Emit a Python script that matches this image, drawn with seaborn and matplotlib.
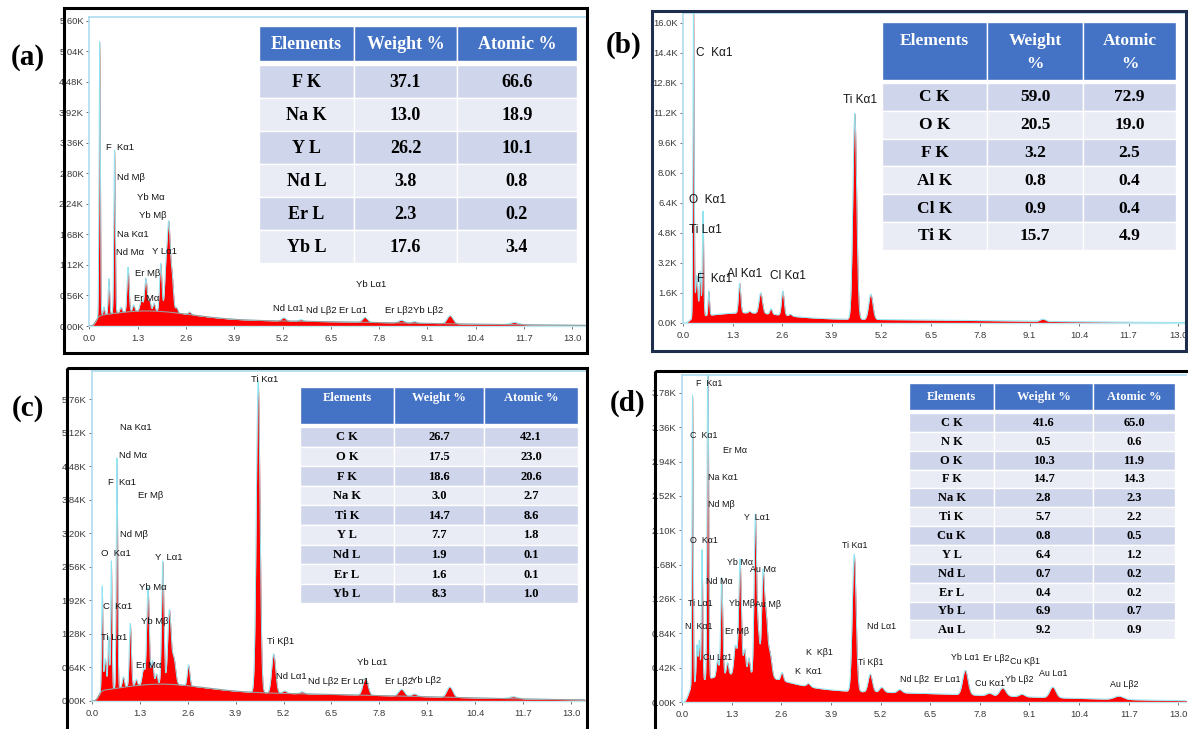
import numpy as np
import matplotlib
matplotlib.use("Agg")
import matplotlib.pyplot as plt
import seaborn as sns
import pandas as pd
from matplotlib.patches import Rectangle

# ---------------------------------------------------------------- data
# Energy axis ticks (keV) shared by all four spectra
x_tick_labels = ["0.0", "1.3", "2.6", "3.9", "5.2", "6.5", "7.8", "9.1", "10.4", "11.7", "13.0"]

# (a) spectrum: characteristic peaks (keV, kcounts, sigma keV) and continuum
a_peak_energy = [0.277, 0.39, 0.525, 0.677, 0.85, 1.04, 1.19, 1.40, 1.52, 1.62, 1.74, 1.92, 2.07, 2.14, 2.22, 2.35, 2.70, 5.23, 5.70, 7.42, 8.40, 8.75, 9.71, 11.44]
a_peak_height = [5.05, 0.15, 0.65, 3.00, 0.10, 0.82, 0.12, 0.20, 0.60, 0.20, 0.15, 0.88, 0.90, 1.38, 0.70, 0.10, 0.05, 0.06, 0.03, 0.09, 0.05, 0.03, 0.15, 0.04]
a_peak_sigma = [0.018, 0.02, 0.02, 0.02, 0.03, 0.028, 0.03, 0.04, 0.035, 0.03, 0.03, 0.032, 0.04, 0.035, 0.04, 0.03, 0.04, 0.06, 0.06, 0.07, 0.08, 0.07, 0.08, 0.12]
a_cont_energy = [1.5, 3.0]
a_cont_height = [0.18, 0.10]
a_cont_sigma = [1.2, 5.0]
a_yticks = ["0.00K", "0.56K", "1.12K", "1.68K", "2.24K", "2.80K", "3.36K", "3.92K", "4.48K", "5.04K", "5.60K"]

# (b) spectrum
b_peak_energy = [0.277, 0.36, 0.452, 0.525, 0.677, 1.486, 1.75, 2.04, 2.31, 2.62, 2.82, 4.51, 4.93, 9.45]
b_peak_height = [17.0, 2.2, 2.4, 5.6, 1.3, 1.6, 0.1, 1.1, 0.3, 1.3, 0.1, 11.0, 1.35, 0.12]
b_peak_sigma = [0.016, 0.03, 0.02, 0.018, 0.02, 0.03, 0.03, 0.045, 0.03, 0.035, 0.04, 0.05, 0.055, 0.07]
b_cont_energy = [1.6, 3.0]
b_cont_height = [0.35, 0.20]
b_cont_sigma = [1.0, 5.0]
b_yticks = ["0.0K", "1.6K", "3.2K", "4.8K", "6.4K", "8.0K", "9.6K", "11.2K", "12.8K", "14.4K", "16.0K"]

# (c) spectrum
c_peak_energy = [0.277, 0.36, 0.452, 0.525, 0.677, 0.85, 1.04, 1.20, 1.40, 1.52, 1.64, 1.75, 1.92, 2.10, 2.22, 2.62, 4.51, 4.93, 5.23, 5.70, 7.42, 8.40, 8.75, 9.71, 11.44]
c_peak_height = [2.00, 0.60, 1.00, 2.45, 4.40, 0.20, 1.20, 0.12, 0.30, 1.85, 0.45, 0.20, 2.35, 1.40, 0.50, 0.40, 5.95, 0.75, 0.05, 0.04, 0.32, 0.13, 0.05, 0.20, 0.04]
c_peak_sigma = [0.018, 0.03, 0.02, 0.018, 0.02, 0.03, 0.028, 0.03, 0.04, 0.035, 0.03, 0.03, 0.032, 0.045, 0.05, 0.035, 0.05, 0.055, 0.06, 0.06, 0.07, 0.08, 0.07, 0.08, 0.12]
c_cont_energy = [1.8, 3.5]
c_cont_height = [0.18, 0.15]
c_cont_sigma = [1.2, 5.0]
c_yticks = ["0.00K", "0.64K", "1.28K", "1.92K", "2.56K", "3.20K", "3.84K", "4.48K", "5.12K", "5.76K"]

# (d) spectrum
d_peak_energy = [0.277, 0.392, 0.452, 0.525, 0.677, 0.93, 1.04, 1.19, 1.40, 1.52, 1.64, 1.75, 1.92, 2.00, 2.12, 2.20, 2.30, 2.62, 3.31, 4.51, 4.93, 5.23, 5.70, 7.42, 8.05, 8.40, 8.90, 9.71, 11.44]
d_peak_height = [3.55, 0.45, 0.50, 1.60, 4.20, 0.20, 1.20, 0.15, 0.35, 1.40, 0.30, 0.20, 1.90, 0.50, 1.20, 0.70, 0.30, 0.10, 0.04, 1.68, 0.22, 0.06, 0.04, 0.30, 0.03, 0.10, 0.03, 0.13, 0.04]
d_peak_sigma = [0.016, 0.02, 0.02, 0.018, 0.02, 0.03, 0.028, 0.03, 0.04, 0.035, 0.03, 0.03, 0.032, 0.04, 0.035, 0.04, 0.05, 0.035, 0.05, 0.05, 0.055, 0.06, 0.06, 0.07, 0.07, 0.08, 0.07, 0.08, 0.12]
d_cont_energy = [1.5, 3.0]
d_cont_height = [0.22, 0.13]
d_cont_sigma = [1.1, 5.0]
d_yticks = ["0.00K", "0.42K", "0.84K", "1.26K", "1.68K", "2.10K", "2.52K", "2.94K", "3.36K", "3.78K"]

# Composition tables
a_elements = ["F K", "Na K", "Y L", "Nd L", "Er L", "Yb L"]
a_weight = ["37.1", "13.0", "26.2", "3.8", "2.3", "17.6"]
a_atomic = ["66.6", "18.9", "10.1", "0.8", "0.2", "3.4"]

b_elements = ["C K", "O K", "F K", "Al K", "Cl K", "Ti K"]
b_weight = ["59.0", "20.5", "3.2", "0.8", "0.9", "15.7"]
b_atomic = ["72.9", "19.0", "2.5", "0.4", "0.4", "4.9"]

c_elements = ["C K", "O K", "F K", "Na K", "Ti K", "Y L", "Nd L", "Er L", "Yb L"]
c_weight = ["26.7", "17.5", "18.6", "3.0", "14.7", "7.7", "1.9", "1.6", "8.3"]
c_atomic = ["42.1", "23.0", "20.6", "2.7", "8.6", "1.8", "0.1", "0.1", "1.0"]

d_elements = ["C K", "N K", "O K", "F K", "Na K", "Ti K", "Cu K", "Y L", "Nd L", "Er L", "Yb L", "Au L"]
d_weight = ["41.6", "0.5", "10.3", "14.7", "2.8", "5.7", "0.8", "6.4", "0.7", "0.4", "6.9", "9.2"]
d_atomic = ["65.0", "0.6", "11.9", "14.3", "2.3", "2.2", "0.5", "1.2", "0.2", "0.2", "0.7", "0.9"]

# Peak annotations: (text, keV, kcounts) -- left edge / vertical centre
a_labels = [("F  Kα1", 0.436, 3.28), ("Nd Mβ", 0.743, 2.73), ("Yb Mα", 1.281, 2.35),
            ("Yb Mβ", 1.327, 2.02), ("Na Kα1", 0.743, 1.67), ("Nd Mα", 0.716, 1.34),
            ("Y Lα1", 1.685, 1.36), ("Er Mβ", 1.227, 0.97), ("Er Mα", 1.19, 0.51),
            ("Yb Lα1", 7.165, 0.77), ("Nd Lα1", 4.955, 0.33), ("Nd Lβ2", 5.83, 0.28),
            ("Er Lα1", 6.729, 0.28), ("Er Lβ2Yb Lβ2", 7.956, 0.28)]
b_labels = [("C  Kα1", 0.341, 14.4), ("Ti Kα1", 4.20, 11.9), ("O  Kα1", 0.158, 6.56),
            ("Ti Lα1", 0.158, 4.96), ("F  Kα1", 0.368, 2.37), ("Al Kα1", 1.156, 2.61),
            ("Cl Kα1", 2.285, 2.51)]
c_labels = [("Ti Kα1", 4.315, 6.13), ("Na Kα1", 0.76, 5.23), ("Nd Mα", 0.722, 4.69),
            ("F  Kα1", 0.434, 4.18), ("Er Mβ", 1.238, 3.93), ("Nd Mβ", 0.752, 3.17),
            ("O  Kα1", 0.244, 2.81), ("Y  Lα1", 1.71, 2.73), ("Yb Mα", 1.276, 2.16),
            ("C  Kα1", 0.299, 1.81), ("Yb Mβ", 1.33, 1.51), ("Ti Lα1", 0.244, 1.22),
            ("Er Mα", 1.194, 0.67), ("Ti Kβ1", 4.75, 1.13), ("Nd Lα1", 4.99, 0.46),
            ("Nd Lβ2", 5.86, 0.38), ("Er Lα1", 6.76, 0.38), ("Yb Lα1", 7.19, 0.73),
            ("Er Lβ2", 7.96, 0.37), ("Yb Lβ2", 8.66, 0.40)]
d_labels = [("F  Kα1", 0.367, 3.90), ("C  Kα1", 0.21, 3.26), ("Er Mα", 1.075, 3.08),
            ("Na Kα1", 0.68, 2.75), ("Nd Mβ", 0.68, 2.41), ("Y  Lα1", 1.625, 2.26),
            ("O  Kα1", 0.21, 1.97), ("Yb Mα", 1.18, 1.71), ("Au Mα", 1.78, 1.62),
            ("Nd Mα", 0.63, 1.48), ("Ti Lα1", 0.157, 1.20), ("Yb Mβ", 1.23, 1.20),
            ("Au Mβ", 1.91, 1.19), ("N  Kα1", 0.079, 0.92), ("Er Mβ", 1.127, 0.86),
            ("Cu Lα1", 0.55, 0.54), ("K  Kβ1", 3.25, 0.60), ("K  Kα1", 2.96, 0.37),
            ("Ti Kα1", 4.19, 1.92), ("Nd Lα1", 4.85, 0.92), ("Ti Kβ1", 4.61, 0.48),
            ("Nd Lβ2", 5.71, 0.28), ("Er Lα1", 6.60, 0.27), ("Yb Lα1", 7.05, 0.55),
            ("Er Lβ2", 7.89, 0.53), ("Cu Kβ1", 8.58, 0.50), ("Cu Kα1", 7.68, 0.23),
            ("Yb Lβ2", 8.47, 0.27), ("Au Lα1", 9.36, 0.35), ("Au Lβ2", 11.22, 0.22)]

# ---------------------------------------------------------------- style
sns.set_theme(style="white")
NARROW = ["Liberation Sans Narrow", "DejaVu Sans Condensed", "Liberation Sans", "DejaVu Sans"]
plt.rcParams["font.family"] = NARROW
SERIF = ["Liberation Serif", "DejaVu Serif"]

W, H = 1188, 729
fig = plt.figure(figsize=(W / 100, H / 100), dpi=100)
fig.patch.set_facecolor("white")

energy = np.arange(0.0, 13.5, 0.004)


def gauss_sum(centres, heights, sigmas):
    c = np.asarray(centres)[:, None]
    h = np.asarray(heights)[:, None]
    s = np.asarray(sigmas)[:, None]
    return (h * np.exp(-0.5 * ((energy[None, :] - c) / s) ** 2)).sum(axis=0)


def add_axes_px(left, top, right, bottom):
    return fig.add_axes([left / W, 1 - bottom / H, (right - left) / W, (bottom - top) / H])


def spectrum_panel(box, ylim, yticks, pe, ph, ps, ce, ch, cs, labels, lab_size, fit_line):
    ax = add_axes_px(*box)
    cont = gauss_sum(ce, ch, cs) * (1 - np.exp(-(energy / 0.2) ** 3))
    total = cont + gauss_sum(pe, ph, ps)
    ax.fill_between(energy, 0, total, color="#FF0000", lw=0, zorder=2)
    sns.lineplot(x=energy, y=total, ax=ax, color="#8FE6F2", lw=0.7, zorder=3)
    if fit_line:
        sns.lineplot(x=energy, y=cont, ax=ax, color="#9C9C9C", lw=0.8, zorder=4)
    ax.set_xlim(0, ylim[0])
    ax.set_ylim(0, ylim[1])
    ax.set_xticks([float(t) for t in x_tick_labels])
    ax.set_xticklabels(x_tick_labels)
    ax.set_yticks([float(t[:-1]) for t in yticks])
    ax.set_yticklabels(yticks)
    ax.tick_params(axis="both", labelsize=6.8, colors="#3A3A3A", length=2, width=0.5, pad=2,
                   bottom=True, left=True)
    ax.tick_params(axis="x", pad=4)
    for side in ("left", "top"):
        ax.spines[side].set_color("#AEDCF0")
        ax.spines[side].set_linewidth(1.2)
    ax.spines["bottom"].set_color("#BFE8F0")
    ax.spines["bottom"].set_linewidth(1.0)
    ax.spines["right"].set_visible(False)
    ax.set_facecolor("white")
    ax.grid(False)
    for text, x, y in labels:
        ax.text(x, y, text, fontsize=lab_size, ha="left", va="center", color="#151515", zorder=6)
    return ax


# (a)
spectrum_panel((89.4, 17, 586, 326), (13.37, 5.67), a_yticks,
               a_peak_energy, a_peak_height, a_peak_sigma,
               a_cont_energy, a_cont_height, a_cont_sigma, a_labels, 6.8, True)
# (b)
spectrum_panel((683, 13, 1185, 323), (13.18, 16.53), b_yticks,
               b_peak_energy, b_peak_height, b_peak_sigma,
               b_cont_energy, b_cont_height, b_cont_sigma, b_labels, 8.6, False)
# (c)
spectrum_panel((92, 371, 585, 701), (13.38, 6.30), c_yticks,
               c_peak_energy, c_peak_height, c_peak_sigma,
               c_cont_energy, c_cont_height, c_cont_sigma, c_labels, 6.8, True)
# (d)
spectrum_panel((682, 375, 1186, 702), (13.2, 4.0), d_yticks,
               d_peak_energy, d_peak_height, d_peak_sigma,
               d_cont_energy, d_cont_height, d_cont_sigma, d_labels, 6.4, False)

# ---------------------------------------------------------------- overlay: frames, tables, panel tags
ov = fig.add_axes([0, 0, 1, 1], zorder=20)
ov.set_xlim(0, W)
ov.set_ylim(H, 0)
ov.axis("off")
ov.patch.set_alpha(0)

HEAD = "#4472C4"
ROW_DARK = "#CFD5EA"
ROW_LIGHT = "#E9EBF5"


def draw_table(cols, head_top, head_bot, row_top, row_h, header_lines, elements, weight, atomic,
               size, head_size):
    ncol = len(cols) - 1
    for j in range(ncol):
        ov.add_patch(Rectangle((cols[j], head_top), cols[j + 1] - cols[j], head_bot - head_top,
                               fc=HEAD, ec="white", lw=1.0))
    for text, j, y in header_lines:
        ov.text((cols[j] + cols[j + 1]) / 2, y, text, ha="center", va="center", color="white",
                fontsize=head_size, fontweight="bold", family=SERIF)
    for i, row in enumerate(zip(elements, weight, atomic)):
        y0 = row_top + i * row_h
        fc = ROW_DARK if i % 2 == 0 else ROW_LIGHT
        for j in range(ncol):
            ov.add_patch(Rectangle((cols[j], y0), cols[j + 1] - cols[j], row_h,
                                   fc=fc, ec="white", lw=1.0))
            ov.text((cols[j] + cols[j + 1]) / 2, y0 + row_h / 2 + 0.5, row[j], ha="center",
                    va="center", color="black", fontsize=size, fontweight="bold", family=SERIF)


draw_table([259, 354, 457, 577], 26, 61, 65, 33,
           [("Elements", 0, 44), ("Weight %", 1, 44), ("Atomic %", 2, 44)],
           a_elements, a_weight, a_atomic, 13, 13)
draw_table([882, 987, 1083, 1176], 22, 80, 83, 27.8,
           [("Elements", 0, 41), ("Weight", 1, 41), ("%", 1, 64), ("Atomic", 2, 41), ("%", 2, 64)],
           b_elements, b_weight, b_atomic, 12.5, 12.5)
draw_table([300, 394, 484, 578], 387, 424, 427, 19.6,
           [("Elements", 0, 398), ("Weight %", 1, 398), ("Atomic %", 2, 398)],
           c_elements, c_weight, c_atomic, 9, 9)
draw_table([909, 994, 1093, 1175], 383, 410, 413, 18.85,
           [("Elements", 0, 396.5), ("Weight %", 1, 396.5), ("Atomic %", 2, 396.5)],
           d_elements, d_weight, d_atomic, 9, 9)

# panel frames
ov.add_patch(Rectangle((64, 8), 523, 345, fill=False, ec="black", lw=2.2))
ov.add_patch(Rectangle((652, 11), 534, 340, fill=False, ec="#1F2E4D", lw=2.2))
ov.add_patch(Rectangle((67, 368), 520, 380, fill=False, ec="black", lw=2.2))
ov.add_patch(Rectangle((655, 371), 545, 380, fill=False, ec="black", lw=2.2))

# panel tags
for tag, x, y in [("(a)", 28, 57), ("(b)", 624, 45), ("(c)", 28, 408), ("(d)", 628, 403)]:
    ov.text(x, y, tag, ha="center", va="center", fontsize=21, fontweight="bold",
            family=SERIF, color="black")

fig.savefig("out.png", dpi=100, facecolor="white")
